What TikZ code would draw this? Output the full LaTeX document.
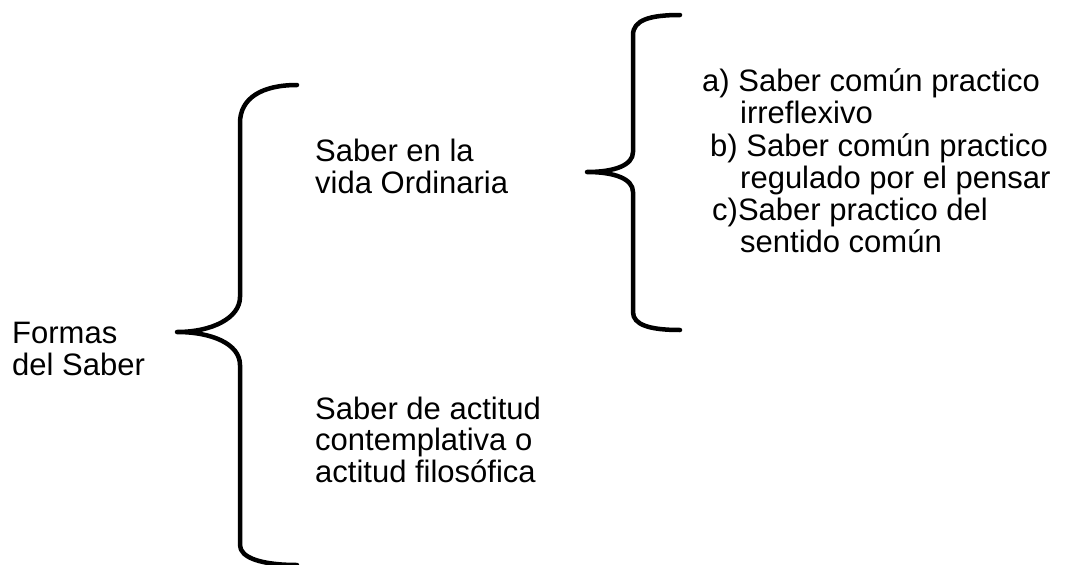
\documentclass[tikz,border=0pt]{standalone}
\usepackage{fontspec}
\setmainfont{Liberation Sans}

\tikzstyle{texto} = [anchor=base west, align=left, inner sep=0pt, font=\fontsize{31}{31.5}\selectfont]
\tikzstyle{llave} = [line width=4.5pt, line cap=round, line join=round]

\begin{document}
\begin{tikzpicture}[x=1pt, y=-1pt]
\useasboundingbox (0,0) rectangle (1072,565);

\node[texto] (formas) at (12,375) {Formas\\del Saber};
\node[texto] (ordinaria) at (315,193) {Saber en la\\vida Ordinaria};
\node[texto] (filosofica) at (315,482) {Saber de actitud\\contemplativa o\\actitud filosófica};

\node[texto] (itema) at (702,123) {a) Saber común practico\\\hspace*{38pt}irreflexivo};
\node[texto] (itemb) at (710,188) {b) Saber común practico\\\hspace*{30pt}regulado por el pensar};
\node[texto] (itemc) at (712,252) {c)Saber practico del\\\hspace*{28pt}sentido común};

% llave grande
\draw[llave] (297,85) .. controls (262,85) and (240,98) .. (240,123)
    -- (240,297) .. controls (240,318) and (212,332) .. (177,332)
    .. controls (212,332) and (240,344) .. (240,365)
    -- (240,545) .. controls (240,558) and (262,565) .. (297,565);

% llave chica
\draw[llave] (680,15) .. controls (650,15) and (633,20) .. (633,35)
    -- (633,152) .. controls (633,165) and (615,172) .. (587,172)
    .. controls (615,172) and (633,179) .. (633,192)
    -- (633,312) .. controls (633,325) and (650,330) .. (680,330);
\end{tikzpicture}
\end{document}
